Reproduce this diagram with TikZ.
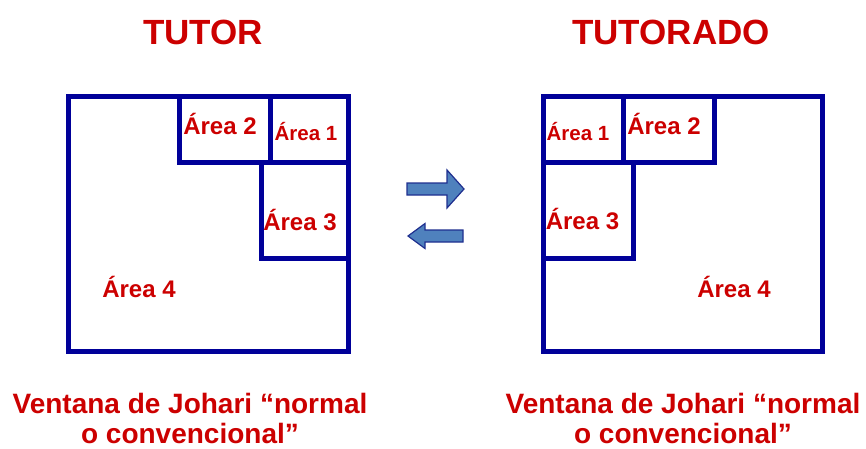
\documentclass[tikz,border=0pt]{standalone}
\usepackage{fontspec}
\setmainfont{Liberation Sans}
\definecolor{marco}{HTML}{000099}
\definecolor{rojo}{HTML}{CC0000}
\definecolor{flecha}{HTML}{4F81BD}
\definecolor{borde}{HTML}{1F2F8F}
\tikzset{ventana/.style={line width=5pt, marco},
area/.style={text=rojo, font=\bfseries\fontsize{24}{24}\selectfont, anchor=base, inner sep=0pt},
titulo/.style={text=rojo, font=\bfseries\fontsize{35}{35}\selectfont, anchor=base, inner sep=0pt},
pie/.style={text=rojo, font=\bfseries\fontsize{28}{30}\selectfont, align=center, anchor=base, inner sep=0pt},
flechita/.style={fill=flecha, draw=borde, line width=1.2pt, line join=miter}}

\begin{document}
\begin{tikzpicture}[x=1pt,y=-1pt]
\useasboundingbox (0,0) rectangle (866,448);
% titulos
\node[titulo] (tutor) at (203,44) {TUTOR};
\node[titulo] (tutorado) at (671,44) {TUTORADO};
% ventana del tutor
\draw[ventana] (68,96) rectangle (348,351);
\draw[ventana] (179.5,96)--(179.5,162)--(348,162);
\draw[ventana] (270,96)--(270,162);
\draw[ventana] (261,162)--(261,258)--(348,258);
% ventana del tutorado
\draw[ventana] (543,96) rectangle (822,351);
\draw[ventana] (543,162)--(714,162)--(714,96);
\draw[ventana] (623.5,96)--(623.5,162);
\draw[ventana] (633,162)--(633,258)--(543,258);
% etiquetas
\foreach \x/\y/\t in {220/134/2,300/230/3,139/297/4,664/134/2,582.5/229/3,734/297/4}
	\node[area] (a\x) at (\x,\y) {Área \t};
\foreach \x in {306,578}
	\node[area, font=\bfseries\fontsize{20.5}{21}\selectfont] (u\x) at (\x,140) {Área 1};
% flechas
\filldraw[flechita, shift={(407,189)}] (0,-6)--(40,-6)--(40,-19)--(57,0)--(40,19)--(40,6)--(0,6)--cycle;
\filldraw[flechita, shift={(463,236)}] (0,-6)--(-38,-6)--(-38,-12.5)--(-55,0)--(-38,12.5)--(-38,6)--(0,6)--cycle;
% pies
\node[pie] (pieA) at (190,443) {Ventana de Johari “normal\\o convencional”};
\node[pie] (pieB) at (683,443) {Ventana de Johari “normal\\o convencional”};
\end{tikzpicture}
\end{document}
